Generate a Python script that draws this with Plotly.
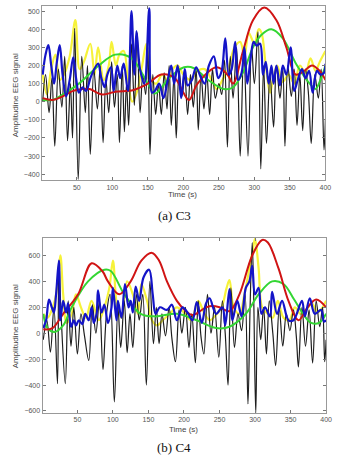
import plotly.graph_objects as go

# ---------------- (a) C3 ----------------
a_black_x = [2,6,11,15,19,24,29,33,37,41,44,47,52,57,62,65,69,74,79,83,87,91,95,99,103,107,110,114,117,120,123,127,131,135,139,143,147,150,153,157,161,165,169,173,177,180,183,187,190,194,198,202,206,210,214,218,221,225,229,233,237,241,245,250,254,258,262,266,270,275,280,285,291,296,300,305,309,313,317,322,327,331,336,340,343,347,352,356,360,364,368,372,376,380,385,390,394,398,400]
a_black_y = [0,150,-60,130,-245,180,-30,250,-215,100,-200,405,-428,250,-60,200,-290,180,-40,200,-225,120,-60,220,-30,150,-225,200,-165,100,-130,320,-20,380,-60,150,40,300,-290,150,-70,100,-70,160,-40,200,-130,150,-200,180,30,140,-70,150,-30,180,-155,150,-40,160,-70,180,20,100,40,230,-250,250,20,300,-300,280,-300,300,100,385,-370,200,-230,150,-140,200,20,180,-245,200,30,180,-130,150,-160,180,50,-230,150,20,180,-265,-100]

a_yellow_x = [2,8,14,20,26,32,40,48,54,60,69,75,80,88,95,99,105,110,116,122,128,135,142,148,155,162,170,178,185,192,200,210,220,230,240,247,255,263,272,280,286,292,300,306,310,316,322,326,332,340,348,356,364,372,379,386,392,400]
a_yellow_y = [150,40,180,260,120,150,250,450,180,220,320,150,300,120,200,330,200,260,280,120,0,60,200,320,120,100,150,120,180,200,150,120,170,180,120,70,120,180,300,330,250,380,320,400,380,200,50,120,200,110,150,100,200,160,240,170,220,280]

a_blue_x = [2,6,10,14,18,22,26,30,35,40,45,49,53,58,63,70,80,84,89,93,98,102,107,111,116,122,127,131,134,139,145,152,156,160,166,172,178,183,187,192,197,202,206,212,218,224,230,236,243,249,254,259,264,268,273,277,282,286,290,295,299,303,308,312,316,320,324,327,331,336,340,345,351,356,361,367,372,377,382,388,393,398,400]
a_blue_y = [150,260,312,200,100,220,312,150,30,120,245,130,50,80,60,140,210,140,80,150,190,60,200,130,210,60,500,150,390,180,100,515,50,60,100,20,120,200,100,200,20,180,90,120,190,140,100,200,250,130,170,350,150,180,330,120,160,300,100,250,330,310,320,150,220,100,200,100,200,90,200,150,300,60,120,180,130,170,50,170,150,160,210]

a_green_x = [2,16,30,53,81,104,127,150,160,180,201,215,235,257,270,285,298,310,324,340,360,380,386,393,400]
a_green_y = [10,10,40,100,200,260,240,100,45,130,190,185,120,70,80,170,300,370,400,350,200,90,70,120,200]

a_red_x = [2,16,30,45,58,68,86,104,130,150,169,188,200,208,220,247,262,270,284,298,314,331,345,358,370,381,392,400]
a_red_y = [20,10,30,60,70,70,40,55,65,100,150,130,50,10,100,190,150,100,280,450,520,450,300,150,170,200,170,120]

# ---------------- (b) C4 ----------------
b_black_x = [2,7,12,17,22,24,27,33,37,41,45,50,55,60,66,71,76,81,86,91,96,102,107,111,116,120,124,128,133,137,142,147,152,157,161,165,169,174,179,183,188,193,197,202,207,211,216,220,224,228,233,238,243,249,254,258,262,266,271,276,281,286,290,293,296,298,301,304,308,312,316,320,325,329,334,339,344,349,354,358,361,366,371,376,381,386,391,395,398,400]
b_black_y = [-50,100,-146,200,-389,560,150,-389,250,-100,200,-160,150,-20,-210,220,0,250,-280,150,300,-530,200,-110,250,-150,150,-110,300,100,300,-400,400,-80,200,-80,150,-20,200,-40,-220,180,0,200,-110,150,-228,250,-30,-160,300,0,200,-185,250,0,-400,350,-110,150,20,300,-546,200,700,300,-620,200,-50,200,-160,250,0,-250,200,-100,150,20,180,-20,-260,200,-100,180,-230,250,50,200,-220,-50]

b_yellow_x = [2,8,14,20,26,30,35,42,48,55,62,70,80,88,95,100,106,112,120,128,135,140,148,155,162,170,180,190,200,210,220,228,236,245,253,260,264,270,278,285,292,297,300,305,310,318,325,332,340,348,356,364,372,380,388,395,400]
b_yellow_y = [150,120,180,300,600,300,80,150,300,200,120,250,100,200,350,560,200,120,400,300,150,380,250,100,60,100,150,200,160,100,250,160,100,140,200,350,410,200,150,300,500,650,730,500,200,150,120,250,120,100,200,150,180,230,160,200,250]

b_blue_x = [2,6,10,14,17,20,24,26,30,34,37,41,45,48,52,57,61,66,70,73,77,79,84,88,93,98,100,105,107,112,117,122,125,128,132,137,143,151,156,160,166,176,183,190,198,206,212,218,225,231,236,245,254,258,264,268,275,281,287,292,296,300,305,309,314,321,324,331,338,347,354,366,370,377,384,393,397,400]
b_blue_y = [40,100,260,200,160,300,560,100,250,160,230,50,100,60,100,70,150,100,200,80,150,330,160,220,80,200,350,100,250,120,380,200,250,160,360,250,430,490,300,150,200,180,220,100,200,150,100,240,80,230,270,150,200,60,340,100,250,130,350,400,520,300,350,150,200,130,320,150,250,100,100,250,130,270,150,180,90,100]

b_green_x = [2,8,18,30,42,65,88,97,116,139,160,190,218,245,264,287,305,324,340,355,370,379,390,400]
b_green_y = [150,40,10,60,200,400,490,480,300,150,130,150,100,40,50,150,300,400,380,260,130,80,80,150]

b_red_x = [2,15,30,51,70,85,93,109,125,140,155,165,176,190,201,212,231,240,250,264,278,296,310,318,333,347,361,374,386,400]
b_red_y = [30,40,150,300,540,480,400,300,400,560,620,560,400,250,180,140,200,210,200,170,300,600,720,700,500,250,100,200,260,200]

XLO, XHI = 1, 400

fig = go.Figure()

def add_set(xs, ys, ax, color, width):
    fig.add_trace(go.Scatter(x=xs, y=ys, mode="lines", line=dict(color=color, width=width, shape="spline", smoothing=1.0),
                             xaxis="x" + ax, yaxis="y" + ax, showlegend=False, hoverinfo="skip"))

YEL = "#f6f23a"; BLK = "#1e1e1e"; GRN = "#33d633"; RED = "#d01414"; BLU = "#1414c8"
for suf, data in [("", (a_yellow_x, a_yellow_y, a_black_x, a_black_y, a_green_x, a_green_y, a_red_x, a_red_y, a_blue_x, a_blue_y)),
                  ("2", (b_yellow_x, b_yellow_y, b_black_x, b_black_y, b_green_x, b_green_y, b_red_x, b_red_y, b_blue_x, b_blue_y))]:
    yx, yy, kx, ky, gx, gy, rx, ry, bx, by = data
    add_set(yx, yy, suf, YEL, 2.2)
    add_set(kx, ky, suf, BLK, 1.2)
    add_set(gx, gy, suf, GRN, 2.0)
    add_set(rx, ry, suf, RED, 2.0)
    add_set(bx, by, suf, BLU, 2.2)

W, H = 357, 470
xdom = [42.7 / W, 331 / W]
tickfont = dict(family="Liberation Sans, Arial", size=7, color="#555555")
common_x = dict(range=[XLO, XHI], tickvals=[50, 100, 150, 200, 250, 300, 350, 400], ticks="inside", ticklen=3,
                tickcolor="#777777", showline=True, linecolor="#999999", linewidth=1, mirror="ticks",
                showgrid=False, zeroline=False, tickfont=tickfont)
common_y = dict(ticks="inside", ticklen=3, tickcolor="#777777", showline=True, linecolor="#999999", linewidth=1,
                mirror="ticks", showgrid=False, zeroline=False, tickfont=tickfont)

fig.update_layout(
    width=W, height=H, margin=dict(l=0, r=0, t=0, b=0),
    paper_bgcolor="white", plot_bgcolor="white",
    xaxis=dict(domain=xdom, anchor="y", **common_x),
    yaxis=dict(domain=[1 - 181 / H, 1 - 5.7 / H], anchor="x", range=[-433, 530],
               tickvals=[-400, -300, -200, -100, 0, 100, 200, 300, 400, 500], **common_y),
    xaxis2=dict(domain=[43.3 / W, 331.7 / W], anchor="y2", **common_x),
    yaxis2=dict(domain=[1 - 414.3 / H, 1 - 239 / H], anchor="x2", range=[-612, 735],
                tickvals=[-600, -400, -200, 0, 200, 400, 600], **common_y),
)

lab = dict(family="Liberation Sans, Arial", size=8, color="#444444")
cap = dict(family="Liberation Serif, Times New Roman, serif", size=13, color="#111111")
ann = [
    dict(text="Time (s)", x=186 / W, y=1 - 195 / H, font=lab),
    dict(text="Time (s)", x=187 / W, y=1 - 431.5 / H, font=lab),
    dict(text="Amplitudine EEG signal", x=16 / W, y=1 - 96 / H, font=lab, textangle=-90),
    dict(text="Amplitudine EEG signal", x=16 / W, y=1 - 328 / H, font=lab, textangle=-90),
    dict(text="(a) C3", x=177 / W, y=1 - 216 / H, font=cap),
    dict(text="(b) C4", x=177 / W, y=1 - 449 / H, font=cap),
]
for a in ann:
    fig.add_annotation(xref="paper", yref="paper", showarrow=False, xanchor="center", yanchor="middle", **a)

fig.write_html("out.html", config={"displayModeBar": False},
               post_script="document.body.style.margin='0px';document.body.style.overflow='hidden';")
